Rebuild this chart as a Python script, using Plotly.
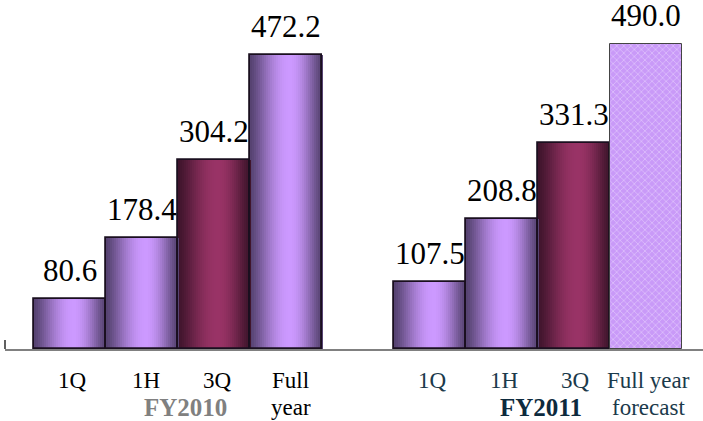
import plotly.graph_objects as go
import math

# ---- data ----
groups = ["FY2010", "FY2011"]
group_members = [[0, 1, 2, 3], [4, 5, 6, 7]]
categories = ["1Q", "1H", "3Q", "Full<br>year", "1Q", "1H", "3Q", "Full year<br>forecast"]
values = [80.6, 178.4, 304.2, 472.2, 107.5, 208.8, 331.3, 490.0]
positions = [0, 1, 2, 3, 5, 6, 7, 8]
bar_kind = ["violet", "violet", "maroon", "violet", "violet", "violet", "maroon", "forecast"]

# ---- styles ----
FONT = "Liberation Serif"
grad = {
    "violet": ((0x55, 0x42, 0x70), (0xcc, 0x99, 0xff)),
    "maroon": ((0x3e, 0x14, 0x2b), (0x99, 0x33, 0x66)),
}
N = 36
PEAK = 0.55


def shade(kind, t):
    dark, light = grad[kind]
    s = t / PEAK if t < PEAK else (1 - t) / (1 - PEAK)
    s = max(0.0, min(1.0, s))
    s = math.sin(s * math.pi / 2) ** 1.3
    c = [round(d + (l - d) * s) for d, l in zip(dark, light)]
    return "rgb(%d,%d,%d)" % tuple(c)


fig = go.Figure()

# gradient slices
for k in range(N):
    t = (k + 0.5) / N
    ys = [v if kind != "forecast" else None for v, kind in zip(values, bar_kind)]
    cols = [shade(kind, t) if kind != "forecast" else "rgba(0,0,0,0)" for kind in bar_kind]
    fig.add_trace(go.Bar(
        x=positions, y=ys, width=1.6 / N, offset=-0.5 + k / N,
        marker=dict(color=cols, line=dict(width=0)),
        hoverinfo="skip", showlegend=False,
    ))

# forecast bar with pattern
fy = [v if kind == "forecast" else None for v, kind in zip(values, bar_kind)]
fig.add_trace(go.Bar(
    x=positions, y=fy, width=1.0, offset=-0.5,
    marker=dict(color="#cc99ff",
                pattern=dict(shape="x", fgcolor="#f0e2ff", bgcolor="#c99af8",
                             size=5, solidity=0.3, fillmode="overlay"),
                line=dict(width=0)),
    hoverinfo="skip", showlegend=False,
))

# outlines
fig.add_trace(go.Bar(
    x=positions, y=values, width=1.0, offset=-0.5,
    marker=dict(color="rgba(0,0,0,0)",
                line=dict(color=["#1a0f1f" if k != "forecast" else "#444444" for k in bar_kind],
                          width=[1.8 if k != "forecast" else 1.0 for k in bar_kind])),
    hoverinfo="skip", showlegend=False,
))

# value labels
for p, v in zip(positions, values):
    fig.add_annotation(x=p, y=v, text=f"{v:.1f}", showarrow=False,
                       yanchor="bottom", yshift=9,
                       font=dict(family=FONT, size=31, color="black"))

# category labels (one annotation per line)
cat_colors = ["black"] * 4 + ["#1b3a4b"] * 4
cat_xshift = [3, 4, 4, 5, 3, 2, 2, 3]
line_shift = [-31, -58]
for p, c, col, xs in zip(positions, categories, cat_colors, cat_xshift):
    for i, part in enumerate(c.split("<br>")):
        fig.add_annotation(x=p, y=0, text=part, showarrow=False, yanchor="middle",
                           yshift=line_shift[i], xshift=xs,
                           font=dict(family=FONT, size=23, color=col))

group_colors = ["#808080", "#0d2a3d"]
group_xshift = [8, 3]
for g, mem, col, xs in zip(groups, group_members, group_colors, group_xshift):
    gx = sum(positions[i] for i in mem) / len(mem)
    fig.add_annotation(x=gx, y=0, text=f"<b>{g}</b>", showarrow=False,
                       yanchor="middle", yshift=-58, xshift=xs,
                       font=dict(family=FONT, size=25, color=col))

# small left tick
fig.add_shape(type="line", xref="paper", yref="y", x0=0, x1=0,
              ysizemode="pixel", yanchor=0, y0=0, y1=9,
              line=dict(color="#606060", width=2))

fig.update_layout(
    width=703, height=421,
    margin=dict(l=5, r=0, t=0, b=72),
    plot_bgcolor="white", paper_bgcolor="white",
    barmode="overlay", bargap=0,
    xaxis=dict(range=[-0.9, -0.9 + 698 / 72], showgrid=False, zeroline=False,
               showticklabels=False, ticks="", showline=True,
               linecolor="#808080", linewidth=2, fixedrange=True),
    yaxis=dict(range=[0, 560.5], showgrid=False, zeroline=False,
               showticklabels=False, ticks="", showline=False, fixedrange=True),
)

fig.write_html("out.html")
